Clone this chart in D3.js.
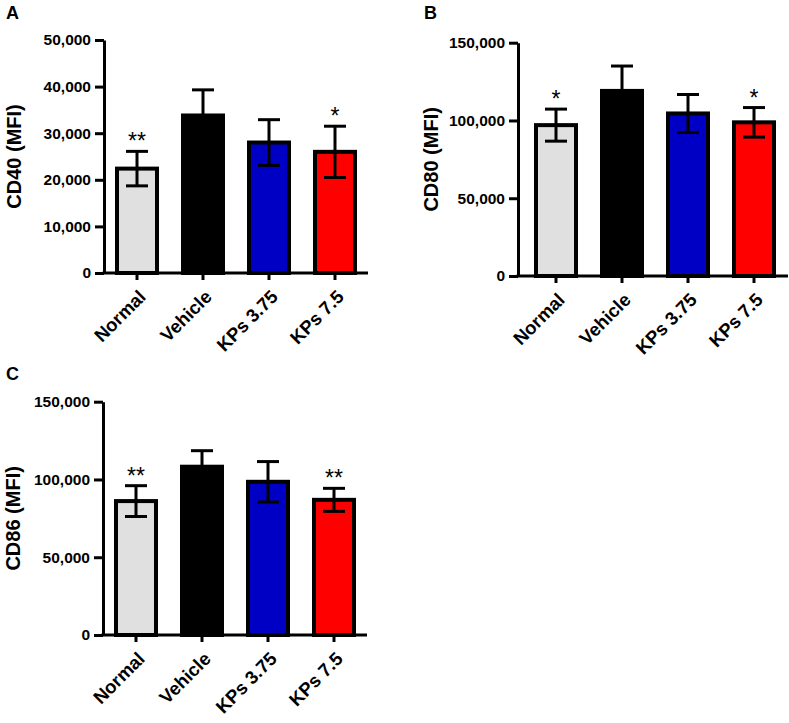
<!DOCTYPE html>
<html>
<head>
<meta charset="utf-8">
<script src="https://cdn.jsdelivr.net/npm/d3@7"></script>
<style>
  body { margin: 0; background: #fff; }
  text { font-family: Arial, "Liberation Sans", sans-serif; }
</style>
</head>
<body>
<div id="chart"></div>
<script>
// Data
var categories = ["Normal", "Vehicle", "KPs 3.75", "KPs 7.5"];

var cd40Mean = [22400, 33800, 28000, 26000];
var cd40Err = [3700, 5500, 4900, 5500];
var cd40Stars = ["**", "", "", "*"];
var cd40Ticks = [0, 10000, 20000, 30000, 40000, 50000];

var cd80Mean = [97000, 119000, 104500, 98800];
var cd80Err = [10300, 16000, 12200, 9500];
var cd80Stars = ["*", "", "", "*"];
var cd80Ticks = [0, 50000, 100000, 150000];

var cd86Mean = [86100, 108200, 98500, 86900];
var cd86Err = [9900, 10300, 13000, 7400];
var cd86Stars = ["**", "", "", "**"];
var cd86Ticks = [0, 50000, 100000, 150000];

var barColors = ["#e0e0e0", "#000000", "#0000c4", "#ff0000"];

function init() {
    var w = 789;
    var h = 723;

    var svg = d3.select("#chart")
        .append("svg")
        .attr("width", w)
        .attr("height", h);

    drawPanel(svg, {
        letter: "A", letterX: 6, letterY: 19,
        label: "CD40 (MFI)", labelX: 21,
        mean: cd40Mean, err: cd40Err, stars: cd40Stars, ticks: cd40Ticks,
        axisX: 104, bandLeft: 104, right: 368, y0: 273, yTop: 40
    });

    drawPanel(svg, {
        letter: "B", letterX: 424, letterY: 19,
        label: "CD80 (MFI)", labelX: 438,
        mean: cd80Mean, err: cd80Err, stars: cd80Stars, ticks: cd80Ticks,
        axisX: 518, bandLeft: 523, right: 788, y0: 276, yTop: 42.7
    });

    drawPanel(svg, {
        letter: "C", letterX: 6, letterY: 380,
        label: "CD86 (MFI)", labelX: 20,
        mean: cd86Mean, err: cd86Err, stars: cd86Stars, ticks: cd86Ticks,
        axisX: 103, bandLeft: 103, right: 367, y0: 635, yTop: 401.7
    });
}

function drawPanel(svg, p) {
    var g = svg.append("g");
    var maxVal = p.ticks[p.ticks.length - 1];

    var yScale = d3.scaleLinear()
        .domain([0, maxVal])
        .range([p.y0, p.yTop]);

    var xScale = d3.scaleBand()
        .domain(categories)
        .range([p.bandLeft, p.bandLeft + 264])
        .paddingInner(0.394)
        .paddingOuter(0.197);

    // panel letter
    g.append("text")
        .attr("x", p.letterX)
        .attr("y", p.letterY)
        .attr("font-size", 18)
        .attr("font-weight", "bold")
        .text(p.letter);

    // y axis title
    g.append("text")
        .attr("transform", "translate(" + p.labelX + "," + ((p.y0 + p.yTop) / 2) + ") rotate(-90)")
        .attr("text-anchor", "middle")
        .attr("font-size", 20)
        .attr("font-weight", "bold")
        .text(p.label);

    // bars
    g.selectAll("rect.bar")
        .data(p.mean)
        .enter()
        .append("rect")
        .attr("class", "bar")
        .attr("x", function (d, i) { return xScale(categories[i]); })
        .attr("width", xScale.bandwidth())
        .attr("y", function (d) { return yScale(d); })
        .attr("height", function (d) { return p.y0 - yScale(d); })
        .attr("fill", function (d, i) { return barColors[i]; })
        .attr("stroke", "#000")
        .attr("stroke-width", 4);

    // error bars
    var cap = 11;
    var eb = g.selectAll("g.err")
        .data(p.mean)
        .enter()
        .append("g")
        .attr("class", "err")
        .attr("stroke", "#000")
        .attr("stroke-width", 3);

    eb.append("line")
        .attr("x1", function (d, i) { return xScale(categories[i]) + xScale.bandwidth() / 2; })
        .attr("x2", function (d, i) { return xScale(categories[i]) + xScale.bandwidth() / 2; })
        .attr("y1", function (d, i) { return yScale(d - p.err[i]); })
        .attr("y2", function (d, i) { return yScale(d + p.err[i]); });

    eb.append("line")
        .attr("x1", function (d, i) { return xScale(categories[i]) + xScale.bandwidth() / 2 - cap; })
        .attr("x2", function (d, i) { return xScale(categories[i]) + xScale.bandwidth() / 2 + cap; })
        .attr("y1", function (d, i) { return yScale(d + p.err[i]); })
        .attr("y2", function (d, i) { return yScale(d + p.err[i]); });

    eb.append("line")
        .attr("x1", function (d, i) { return xScale(categories[i]) + xScale.bandwidth() / 2 - cap; })
        .attr("x2", function (d, i) { return xScale(categories[i]) + xScale.bandwidth() / 2 + cap; })
        .attr("y1", function (d, i) { return yScale(d - p.err[i]); })
        .attr("y2", function (d, i) { return yScale(d - p.err[i]); });

    // significance stars
    g.selectAll("text.star")
        .data(p.mean)
        .enter()
        .append("text")
        .attr("class", "star")
        .attr("x", function (d, i) { return xScale(categories[i]) + xScale.bandwidth() / 2; })
        .attr("y", function (d, i) { return yScale(d + p.err[i]) - 2; })
        .attr("text-anchor", "middle")
        .attr("font-size", 23)
        .text(function (d, i) { return p.stars[i]; });

    // y axis
    var yAxis = d3.axisLeft(yScale)
        .tickValues(p.ticks)
        .tickFormat(d3.format(","))
        .tickSize(9)
        .tickSizeOuter(0)
        .tickPadding(4);

    var ya = g.append("g")
        .attr("transform", "translate(" + p.axisX + ",0)")
        .call(yAxis);
    ya.selectAll("path, line").attr("stroke", "#000").attr("stroke-width", 3);
    ya.selectAll("text")
        .attr("font-size", 15.5)
        .attr("font-weight", "bold")
        .attr("fill", "#000")
        .attr("font-family", "Arial, 'Liberation Sans', sans-serif");

    // x axis ticks
    var xAxis = d3.axisBottom(xScale)
        .tickSize(7)
        .tickSizeOuter(0)
        .tickFormat("");

    var xa = g.append("g")
        .attr("transform", "translate(0," + p.y0 + ")")
        .call(xAxis);
    xa.select(".domain").remove();
    xa.selectAll("line").attr("stroke", "#000").attr("stroke-width", 3);

    // x axis line
    g.append("line")
        .attr("x1", p.axisX - 1.5)
        .attr("x2", p.right)
        .attr("y1", p.y0)
        .attr("y2", p.y0)
        .attr("stroke", "#000")
        .attr("stroke-width", 3);

    // rotated category labels
    g.selectAll("text.cat")
        .data(categories)
        .enter()
        .append("text")
        .attr("class", "cat")
        .attr("transform", function (d) {
            var cx = xScale(d) + xScale.bandwidth() / 2;
            return "translate(" + (cx + 10) + "," + (p.y0 + 25) + ") rotate(-45)";
        })
        .attr("text-anchor", "end")
        .attr("font-size", 18.5)
        .attr("font-weight", "bold")
        .text(function (d) { return d; });
}

window.onload = init;
</script>
</body>
</html>
